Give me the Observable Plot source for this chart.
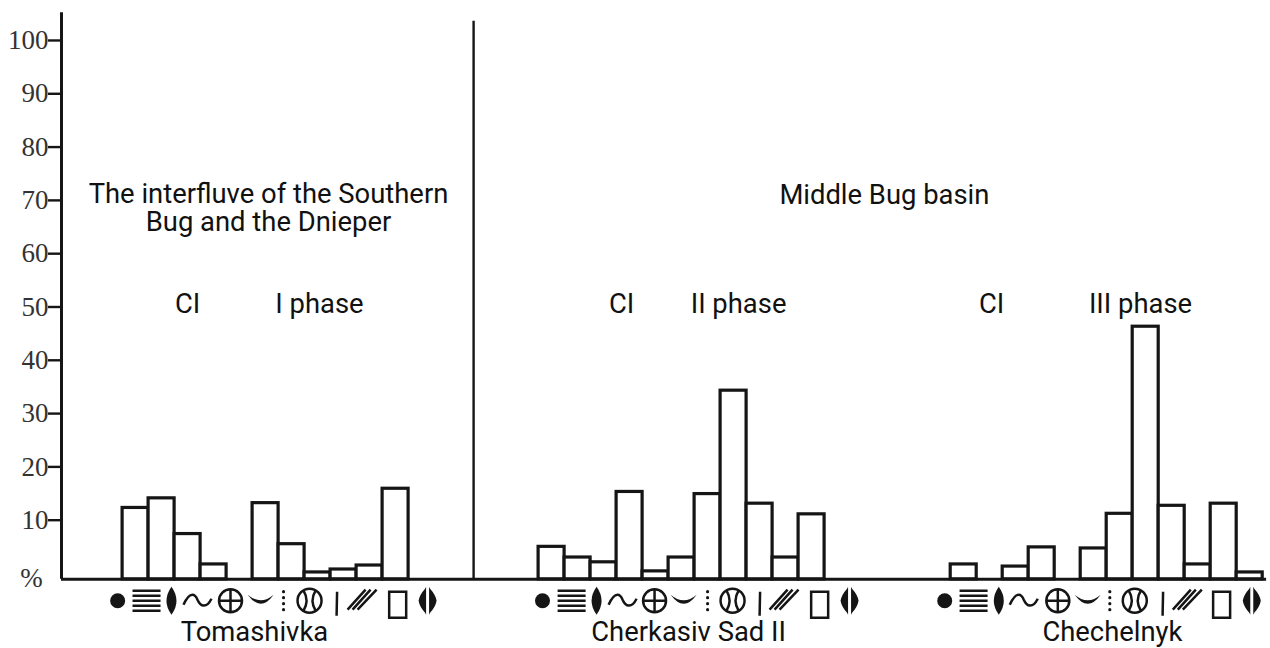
<!DOCTYPE html>
<html><head><meta charset="utf-8">
<style>html,body{margin:0;padding:0;background:#fff}svg{display:block}</style>
<script src="https://cdn.jsdelivr.net/npm/d3@7"></script>
<script src="https://cdn.jsdelivr.net/npm/@observablehq/plot@0.6"></script>
</head><body><div id="c"></div>
<script>
const yTicks = [10,20,30,40,50,60,70,80,90,100];
const siteNames = ["Tomashivka","Cherkasiv Sad II","Chechelnyk"];
const tomashivka = [12.3,14.1,7.4,1.7,null,13.2,5.5,0.2,0.75,1.5,15.9];
const cherkasiv = [5,3,2.1,15.3,0.4,3,14.9,34.3,13.1,3,11.1];
const chechelnyk = [1.7,null,1.3,4.9,null,4.7,11.2,46.3,12.7,1.7,13.1,0.2];
const siteSeries = [tomashivka,cherkasiv,chechelnyk];
const siteStart = [2.35,18.35,34.2];
const glyphSlotsT = [-0.19,0.92,1.88,2.88,4.15,5.31,6.19,7.19,8.23,9.23,10.58,11.73];
const glyphSlotsC = [0.15,1.27,2.23,3.23,4.46,5.58,6.5,7.46,8.5,9.46,10.81,11.96];
const glyphSlotsH = [-0.23,0.88,1.85,2.81,4.12,5.27,6.12,7.08,8.15,9.12,10.42,11.58];
const siteGlyphSlots = [glyphSlotsT,glyphSlotsC,glyphSlotsH];
const base = -1.1;
const bars = siteSeries.flatMap((s,i)=>s.map((v,j)=>({site:siteNames[i],a:siteStart[i]+j,b:siteStart[i]+j+1,v})).filter(d=>d.v!=null));

const g = fn => ({draw: fn});
const circle = (c,x,y,r)=>{c.moveTo(x+r,y);c.arc(x,y,r,0,2*Math.PI);};
const line = (c,a,b,d,e)=>{c.moveTo(a,b);c.lineTo(d,e);};
const glyphs = [
 {dy:0,fill:1,t:g(c=>circle(c,0,0,7.5))},
 {dy:0,t:g(c=>{for(const y of [-10,-5,0,5,10]) line(c,-14,y,14,y);})},
 {dy:0,fill:1,t:g(c=>{c.moveTo(0,-14);c.quadraticCurveTo(10,0,0,14);c.quadraticCurveTo(-10,0,0,-14);c.closePath();})},
 {dy:0,t:g(c=>{c.moveTo(-14,4);c.bezierCurveTo(-7,-11,-2,-6,0,-1);c.bezierCurveTo(3,6,9,8,14,-2);})},
 {dy:0,t:g(c=>{circle(c,0,0,11.5);line(c,-11.5,0,11.5,0);line(c,0,-11.5,0,11.5);})},
 {dy:-2,fill:1,t:g(c=>{c.moveTo(-13,-4);c.quadraticCurveTo(0,7,13,-4);c.quadraticCurveTo(0,14,-13,-4);c.closePath();})},
 {dy:0,fill:1,t:g(c=>{for(const y of [-9,-3,3,9]) circle(c,0,y,1.6);})},
 {dy:0,t:g(c=>{circle(c,0,0,12);c.moveTo(-6,-10);c.quadraticCurveTo(0,0,-6,10);c.moveTo(6,-10);c.quadraticCurveTo(0,0,6,10);})},
 {dy:3,t:g(c=>line(c,0.5,-12,0,12))},
 {dy:0,t:g(c=>{line(c,-15,9,3,-11);line(c,-10,9,8,-11);line(c,-5,9,14,-11);})},
 {dy:4,t:g(c=>c.rect(-8.5,-13,17,26))},
 {dy:0,fill:1,t:g(c=>{
   c.moveTo(-1.5,-14);c.lineTo(-2.5,-12);c.quadraticCurveTo(-8,-6,-9,0);c.quadraticCurveTo(-8,6,-2.5,12);c.lineTo(-1.5,14);c.closePath();
   c.moveTo(1.5,-14);c.lineTo(2.5,-12);c.quadraticCurveTo(8,-6,9,0);c.quadraticCurveTo(8,6,2.5,12);c.lineTo(1.5,14);c.closePath();})}
];
const glyphCenterValue = -5.1;
const glyphMarks = glyphs.map((gl,k)=>Plot.dot(siteNames.map((n,i)=>({x:siteStart[i]+siteGlyphSlots[i][k]})),{
  x:"x",y:()=>glyphCenterValue,dy:gl.dy,r:8,symbol:gl.t,
  fill:gl.fill?"#151515":"none",stroke:gl.fill?"none":"#151515",strokeWidth:2.5}));

const labelFont = {fontFamily:"Roboto",fill:"#111",textAnchor:"middle"};
const labels = [
 ["The interfluve of the Southern\nBug and the Dnieper",7.96,68.55],
 ["CI",4.85,50.6],["I phase",9.92,50.6],
 ["Middle Bug basin",31.65,71],
 ["CI",21.54,50.6],["II phase",26.04,50.6],
 ["CI",35.77,50.6],["III phase",41.5,50.6],
 [siteNames[0],7.42,-11],[siteNames[1],24.12,-11],[siteNames[2],40.42,-11]
].map(([t,x,y])=>({t,x,y}));

const chart = Plot.plot({
  width:1270,height:648,marginLeft:61,marginRight:0,marginTop:0,marginBottom:0,
  style:{background:"#fff"},
  x:{domain:[0,46.5],axis:null},
  y:{domain:[-14.07,107.5],range:[648,0]},
  marks:[
    Plot.rect(bars,{x1:"a",x2:"b",y1:()=>base,y2:"v",fill:"#fff",stroke:"#151515",strokeWidth:3.2}),
    Plot.ruleY([base],{x1:0,x2:46.35,stroke:"#151515",strokeWidth:3}),
    Plot.ruleX([0],{y1:base,y2:105.2,stroke:"#151515",strokeWidth:3}),
    Plot.ruleX([15.85],{y1:base,y2:103.6,stroke:"#151515",strokeWidth:2.4}),
    Plot.axisY({ticks:yTicks,tickSize:13,tickPadding:0,label:null,stroke:"#151515",strokeWidth:2.4,
      fontSize:27,fontFamily:"Liberation Serif",fill:"#333"}),
    Plot.text(["%"],{x:()=>-1.15,y:()=>-0.9,fontFamily:"Liberation Serif",fontSize:27,fill:"#333",textAnchor:"middle"}),
    ...glyphMarks,
    Plot.text(labels,{x:"x",y:"y",text:"t",...labelFont,fontSize:27.4,lineHeight:1.03})
  ]
});
document.getElementById("c").append(chart);
</script></body></html>
